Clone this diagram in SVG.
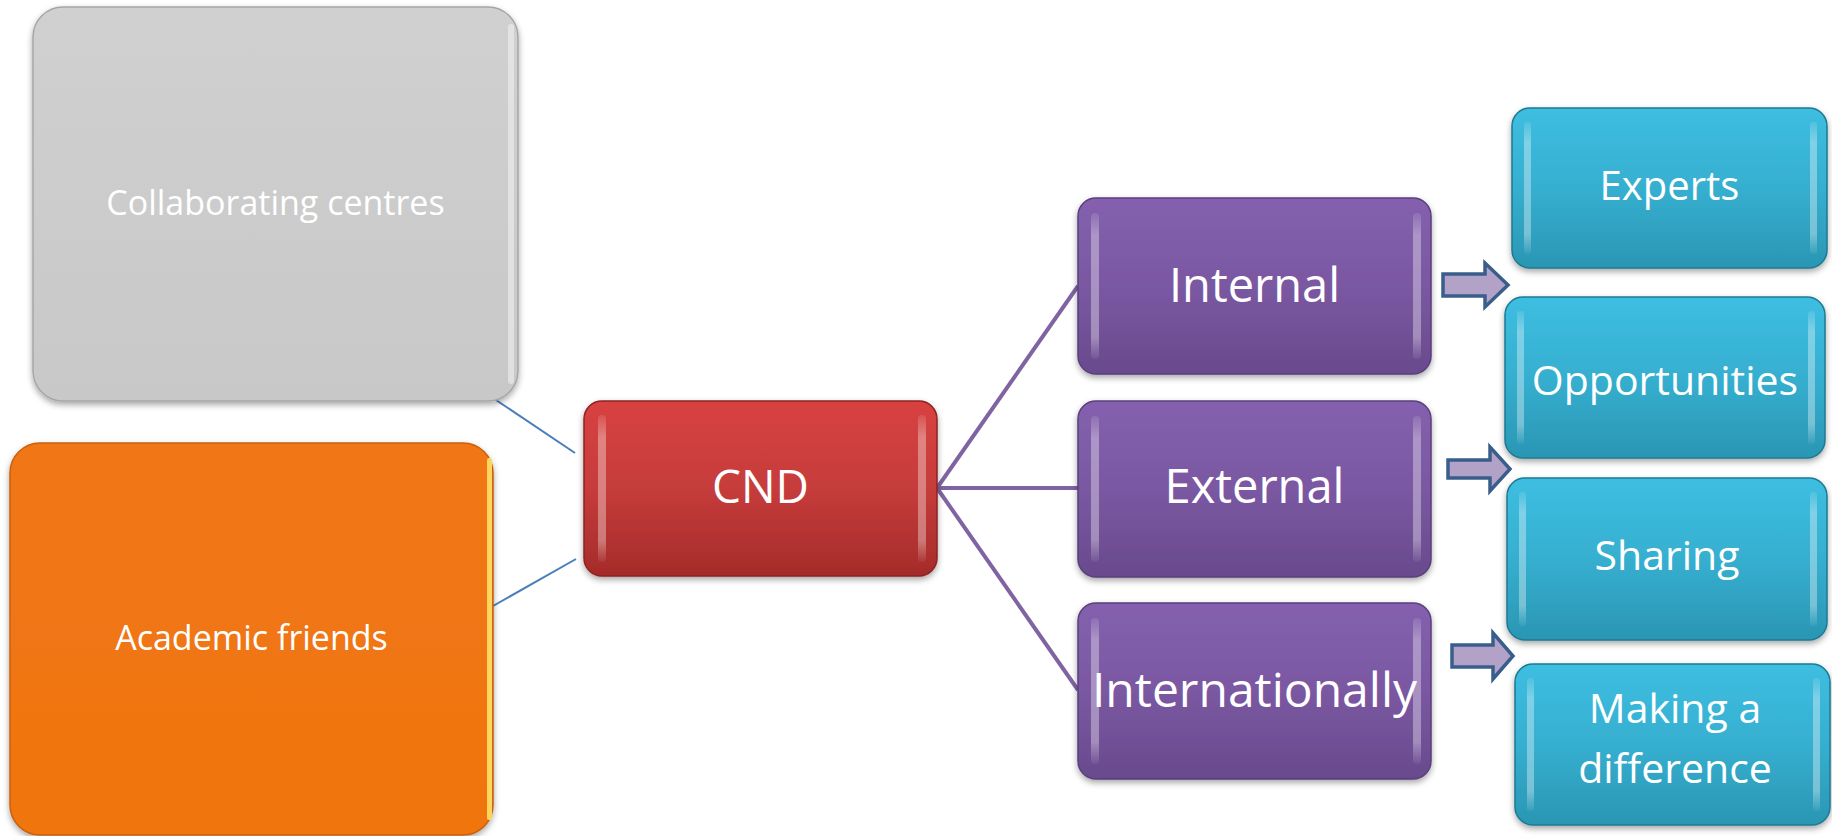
<svg xmlns="http://www.w3.org/2000/svg" width="1832" height="836" viewBox="0 0 1832 836">
<defs>
<style>
.lbl{font-family:"Open Sans","Noto Sans","Liberation Sans",sans-serif;fill:#ffffff;text-anchor:middle}
.blue{stroke:#4A7EBB;stroke-width:2;fill:none}
.purp{stroke:#8064A2;stroke-width:4;fill:none}
.arr{fill:#B3A2C7;stroke:#3A5E8C;stroke-width:3.5;stroke-linejoin:miter}
.hl{fill:url(#stripG)}
</style>
<filter id="sh" x="-10%" y="-10%" width="120%" height="125%">
<feDropShadow dx="0" dy="3" stdDeviation="3" flood-color="#000" flood-opacity="0.35"/>
</filter>
<linearGradient id="grayG" x1="0" y1="0" x2="0" y2="1"><stop offset="0" stop-color="#D0D0D0"/><stop offset="1" stop-color="#C8C8C8"/></linearGradient>
<linearGradient id="orangeG" x1="0" y1="0" x2="0" y2="1"><stop offset="0" stop-color="#F07614"/><stop offset="1" stop-color="#F07510"/></linearGradient>
<linearGradient id="redG" x1="0" y1="0" x2="0" y2="1"><stop offset="0" stop-color="#D84241"/><stop offset="0.5" stop-color="#C63C3B"/><stop offset="1" stop-color="#A52B2A"/></linearGradient>
<linearGradient id="purpleG" x1="0" y1="0" x2="0" y2="1"><stop offset="0" stop-color="#8460AE"/><stop offset="0.5" stop-color="#7A58A2"/><stop offset="1" stop-color="#694A8D"/></linearGradient>
<linearGradient id="tealG" x1="0" y1="0" x2="0" y2="1"><stop offset="0" stop-color="#3DBEE1"/><stop offset="0.5" stop-color="#36AFD0"/><stop offset="1" stop-color="#2A96B3"/></linearGradient>
<linearGradient id="stripG" x1="0" y1="0" x2="0" y2="1"><stop offset="0" stop-color="#ffffff" stop-opacity="0.1"/><stop offset="0.15" stop-color="#ffffff" stop-opacity="0.35"/><stop offset="0.85" stop-color="#ffffff" stop-opacity="0.35"/><stop offset="1" stop-color="#ffffff" stop-opacity="0.05"/></linearGradient>
</defs>
<rect width="1832" height="836" fill="#ffffff"/>

<g id="connectors">
<line class="blue" x1="493" y1="398" x2="575" y2="453"/>
<line class="blue" x1="493" y1="606" x2="576" y2="559"/>
<line class="purp" x1="937" y1="488" x2="1078" y2="286"/>
<line class="purp" x1="937" y1="488" x2="1078" y2="488"/>
<line class="purp" x1="937" y1="488" x2="1078" y2="690"/>
<polygon class="arr" points="1443,274 1485,274 1485,263 1508,285 1485,307 1485,296 1443,296"/>
<polygon class="arr" points="1448,460 1490,460 1490,447 1510,469 1490,491 1490,478 1448,478"/>
<polygon class="arr" points="1452,645 1493,645 1493,633 1513,656 1493,679 1493,667 1452,667"/>
</g>

<g id="node-collaborating">
<rect x="33" y="7" width="485" height="394" rx="30" fill="url(#grayG)" stroke="#A6A6A6" stroke-width="1.5" filter="url(#sh)"/>
<rect x="508" y="24" width="6" height="360" rx="3" fill="#F0F0F0" opacity="0.6"/>
<text class="lbl" x="275.5" y="215" font-size="34">Collaborating centres</text>
</g>

<g id="node-academic">
<rect x="10" y="443" width="483" height="392" rx="30" fill="url(#orangeG)" stroke="#C9600C" stroke-width="1.5" filter="url(#sh)"/>
<rect x="487" y="458" width="5" height="362" rx="2" fill="#FFE066" opacity="0.9"/>
<text class="lbl" x="251.5" y="650" font-size="34">Academic friends</text>
</g>

<g id="node-cnd">
<rect x="584" y="401" width="353" height="175" rx="18" fill="url(#redG)" stroke="#8E2222" stroke-width="1.5" filter="url(#sh)"/>
<rect x="598" y="415" width="8" height="147" rx="4" class="hl"/>
<rect x="918" y="415" width="8" height="147" rx="4" class="hl"/>
<text class="lbl" x="760.5" y="503" font-size="46">CND</text>
</g>

<g id="node-internal">
<rect x="1078" y="198" width="353" height="176" rx="18" fill="url(#purpleG)" stroke="#5A3F7C" stroke-width="1.5" filter="url(#sh)"/>
<rect x="1091" y="213" width="8" height="146" rx="4" class="hl"/>
<rect x="1413" y="213" width="8" height="146" rx="4" class="hl"/>
<text class="lbl" x="1254.5" y="302" font-size="47">Internal</text>
</g>

<g id="node-external">
<rect x="1078" y="401" width="353" height="176" rx="18" fill="url(#purpleG)" stroke="#5A3F7C" stroke-width="1.5" filter="url(#sh)"/>
<rect x="1091" y="416" width="8" height="146" rx="4" class="hl"/>
<rect x="1413" y="416" width="8" height="146" rx="4" class="hl"/>
<text class="lbl" x="1254.5" y="503" font-size="47">External</text>
</g>

<g id="node-internationally">
<rect x="1078" y="603" width="353" height="176" rx="18" fill="url(#purpleG)" stroke="#5A3F7C" stroke-width="1.5" filter="url(#sh)"/>
<rect x="1091" y="618" width="8" height="146" rx="4" class="hl"/>
<rect x="1413" y="618" width="8" height="146" rx="4" class="hl"/>
<text class="lbl" x="1254.5" y="707" font-size="48">Internationally</text>
</g>

<g id="node-experts">
<rect x="1512" y="108" width="315" height="160" rx="18" fill="url(#tealG)" stroke="#1E7A93" stroke-width="1.5" filter="url(#sh)"/>
<rect x="1524" y="122" width="7" height="132" rx="3" class="hl"/>
<rect x="1810" y="122" width="7" height="132" rx="3" class="hl"/>
<text class="lbl" x="1669.5" y="200" font-size="40">Experts</text>
</g>

<g id="node-opportunities">
<rect x="1505" y="297" width="320" height="161" rx="18" fill="url(#tealG)" stroke="#1E7A93" stroke-width="1.5" filter="url(#sh)"/>
<rect x="1517" y="311" width="7" height="133" rx="3" class="hl"/>
<rect x="1808" y="311" width="7" height="133" rx="3" class="hl"/>
<text class="lbl" x="1665" y="395" font-size="41">Opportunities</text>
</g>

<g id="node-sharing">
<rect x="1507" y="478" width="320" height="162" rx="18" fill="url(#tealG)" stroke="#1E7A93" stroke-width="1.5" filter="url(#sh)"/>
<rect x="1519" y="492" width="7" height="134" rx="3" class="hl"/>
<rect x="1810" y="492" width="7" height="134" rx="3" class="hl"/>
<text class="lbl" x="1667" y="570" font-size="41">Sharing</text>
</g>

<g id="node-making">
<rect x="1515" y="664" width="315" height="161" rx="18" fill="url(#tealG)" stroke="#1E7A93" stroke-width="1.5" filter="url(#sh)"/>
<rect x="1527" y="678" width="7" height="133" rx="3" class="hl"/>
<rect x="1813" y="678" width="7" height="133" rx="3" class="hl"/>
<text class="lbl" x="1675" y="723" font-size="41">Making a</text>
<text class="lbl" x="1675" y="783" font-size="41">difference</text>
</g>
</svg>
